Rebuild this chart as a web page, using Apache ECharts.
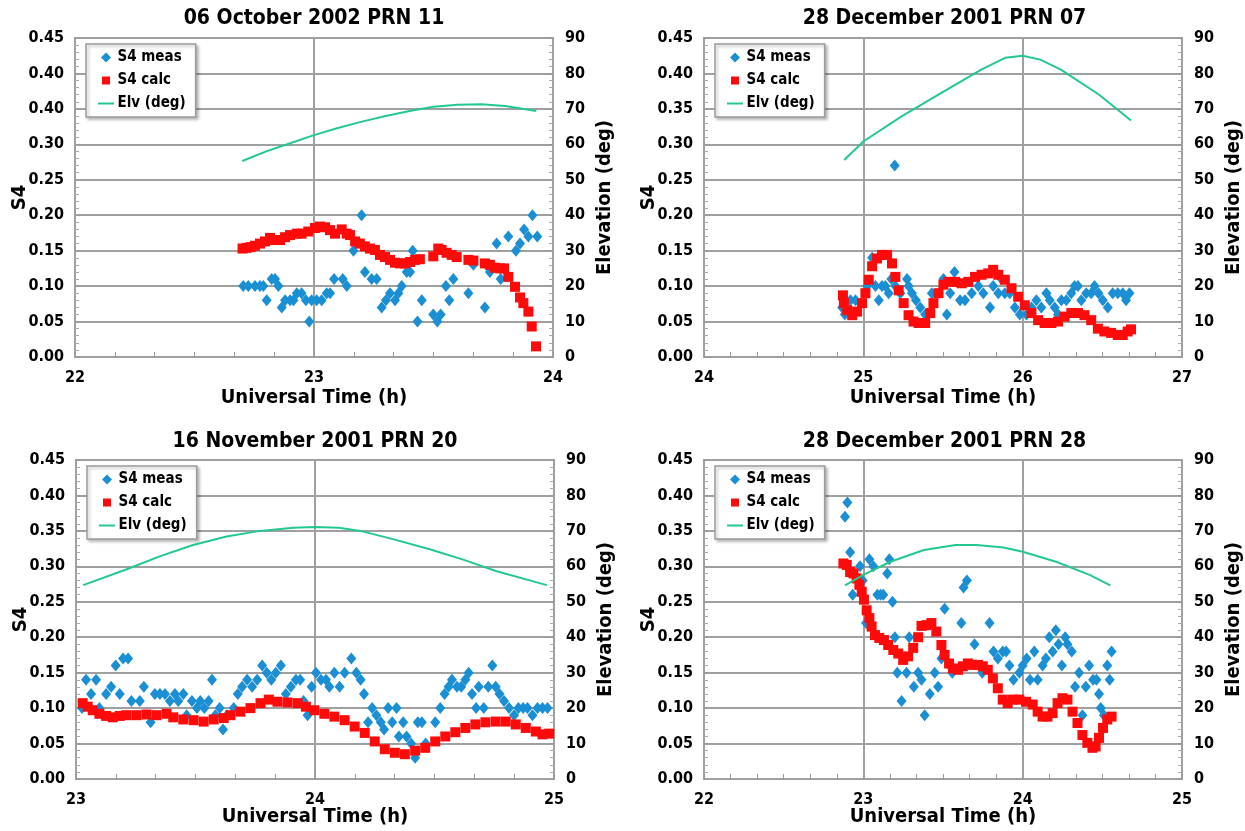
<!DOCTYPE html>
<html>
<head>
<meta charset="utf-8">
<script src="https://cdn.jsdelivr.net/npm/echarts@6.0.0/dist/echarts.min.js"></script>
<style>
  html, body { margin: 0; padding: 0; background: #fff; }
  #chart { width: 1245px; height: 831px; }
</style>
</head>
<body>
<div id="chart"></div>
<script>
// ---- Panel titles ----
const panelTitles = [
  '06 October 2002 PRN 11',
  '28 December 2001 PRN 07',
  '16 November 2001 PRN 20',
  '28 December 2001 PRN 28'
];

// ---- Time axis ranges (UT hours) ----
const timeRanges = [[22, 24], [24, 27], [23, 25], [22, 25]];

// ---- S4 tick labels (left axis), bottom to top ----
const s4LabelsOct = ['0.00', '0.05', '0.10', '0.15', '0.20', '0.25', '0.30', '0.40', '0.40', '0.45'];
const s4LabelsStd = ['0.00', '0.05', '0.10', '0.15', '0.20', '0.25', '0.30', '0.35', '0.40', '0.45'];

// ---- 06 October 2002 PRN 11 ----
const octMeas = [
  [22.704,0.10],[22.725,0.10],[22.753,0.10],[22.774,0.10],[22.788,0.10],[22.802,0.08],[22.823,0.11],[22.837,0.11],
  [22.851,0.10],[22.865,0.07],[22.879,0.08],[22.900,0.08],[22.914,0.08],[22.928,0.09],[22.948,0.09],[22.966,0.08],
  [22.980,0.05],[22.990,0.08],[23.011,0.08],[23.032,0.08],[23.053,0.09],[23.067,0.09],[23.084,0.11],[23.120,0.11],
  [23.137,0.10],[23.165,0.15],[23.199,0.20],[23.213,0.12],[23.241,0.11],[23.262,0.11],[23.283,0.07],[23.301,0.08],
  [23.318,0.09],[23.339,0.08],[23.353,0.09],[23.367,0.10],[23.388,0.12],[23.402,0.12],[23.413,0.15],[23.433,0.05],
  [23.451,0.08],[23.499,0.06],[23.516,0.05],[23.530,0.06],[23.552,0.10],[23.566,0.08],[23.583,0.11],[23.646,0.09],
  [23.667,0.13],[23.715,0.07],[23.736,0.12],[23.764,0.16],[23.781,0.11],[23.813,0.17],[23.845,0.15],[23.862,0.16],
  [23.879,0.18],[23.897,0.17],[23.914,0.20],[23.934,0.17]
];
const octCalc = [
  [22.701,0.153],[22.718,0.154],[22.735,0.155],[22.753,0.157],[22.774,0.160],[22.795,0.163],[22.816,0.168],[22.837,0.165],
  [22.858,0.165],[22.879,0.169],[22.900,0.172],[22.928,0.174],[22.948,0.174],[22.976,0.177],[23.004,0.182],[23.025,0.184],
  [23.046,0.183],[23.067,0.179],[23.088,0.174],[23.116,0.180],[23.137,0.174],[23.151,0.172],[23.172,0.163],[23.192,0.160],
  [23.213,0.156],[23.234,0.153],[23.255,0.151],[23.276,0.144],[23.297,0.141],[23.318,0.137],[23.339,0.133],[23.360,0.132],
  [23.381,0.132],[23.402,0.134],[23.423,0.137],[23.443,0.138],[23.499,0.142],[23.520,0.153],[23.534,0.151],[23.555,0.147],
  [23.576,0.144],[23.597,0.141],[23.646,0.137],[23.667,0.136],[23.715,0.132],[23.736,0.130],[23.757,0.126],[23.778,0.125],
  [23.795,0.125],[23.813,0.113],[23.841,0.099],[23.862,0.084],[23.876,0.076],[23.897,0.064],[23.911,0.043],[23.929,0.015]
];
const octElv = [
  [22.70,55.3],[22.80,58.0],[22.90,60.3],[23.00,62.6],[23.10,64.6],[23.20,66.4],[23.30,68.0],
  [23.40,69.4],[23.50,70.6],[23.60,71.2],[23.70,71.3],[23.80,70.8],[23.93,69.4]
];

// ---- 28 December 2001 PRN 07 ----
const dec07Meas = [
  [24.867,0.07],[24.884,0.06],[24.919,0.08],[24.951,0.08],[25.024,0.10],[25.055,0.14],[25.076,0.10],[25.097,0.08],
  [25.117,0.10],[25.138,0.10],[25.159,0.09],[25.176,0.11],[25.197,0.27],[25.201,0.10],[25.232,0.09],[25.274,0.11],
  [25.284,0.10],[25.305,0.09],[25.330,0.08],[25.357,0.07],[25.388,0.06],[25.430,0.09],[25.472,0.09],[25.503,0.11],
  [25.524,0.06],[25.545,0.09],[25.572,0.12],[25.607,0.08],[25.638,0.08],[25.680,0.09],[25.722,0.10],[25.753,0.09],
  [25.795,0.07],[25.815,0.10],[25.847,0.09],[25.867,0.11],[25.888,0.09],[25.919,0.09],[25.951,0.07],[25.982,0.06],
  [26.024,0.06],[26.055,0.07],[26.086,0.08],[26.117,0.07],[26.149,0.09],[26.170,0.08],[26.201,0.07],[26.222,0.06],
  [26.243,0.08],[26.274,0.08],[26.305,0.09],[26.326,0.10],[26.347,0.10],[26.368,0.08],[26.399,0.09],[26.430,0.09],
  [26.451,0.10],[26.476,0.09],[26.503,0.08],[26.534,0.07],[26.565,0.09],[26.597,0.09],[26.628,0.09],[26.649,0.08],
  [26.670,0.09]
];
const dec07Calc = [
  [24.872,0.087],[24.878,0.076],[24.899,0.066],[24.930,0.059],[24.961,0.064],[24.992,0.076],[25.013,0.090],[25.034,0.109],
  [25.055,0.128],[25.086,0.139],[25.117,0.144],[25.149,0.144],[25.180,0.132],[25.201,0.113],[25.222,0.094],[25.253,0.076],
  [25.284,0.059],[25.315,0.050],[25.347,0.048],[25.388,0.048],[25.420,0.062],[25.440,0.076],[25.472,0.090],[25.503,0.102],
  [25.534,0.106],[25.576,0.106],[25.617,0.104],[25.659,0.106],[25.701,0.113],[25.742,0.116],[25.784,0.118],[25.815,0.123],
  [25.847,0.116],[25.888,0.109],[25.930,0.097],[25.972,0.085],[26.013,0.073],[26.055,0.062],[26.097,0.052],[26.138,0.048],
  [26.180,0.048],[26.222,0.050],[26.263,0.057],[26.305,0.062],[26.347,0.062],[26.388,0.059],[26.430,0.052],[26.472,0.040],
  [26.513,0.036],[26.555,0.034],[26.597,0.031],[26.628,0.031],[26.659,0.036],[26.680,0.039]
];
const dec07Elv = [
  [24.88,55.6],[25.00,60.8],[25.24,67.9],[25.49,74.5],[25.74,81.1],[25.89,84.4],[26.00,85.0],
  [26.11,83.9],[26.24,81.1],[26.48,74.0],[26.68,66.7]
];

// ---- 16 November 2001 PRN 20 ----
const novMeas = [
  [23.025,0.10],[23.042,0.14],[23.063,0.12],[23.084,0.14],[23.098,0.10],[23.126,0.12],[23.147,0.13],[23.166,0.16],
  [23.183,0.12],[23.197,0.17],[23.218,0.17],[23.232,0.11],[23.267,0.11],[23.284,0.13],[23.312,0.08],[23.330,0.12],
  [23.351,0.12],[23.372,0.12],[23.393,0.11],[23.414,0.12],[23.428,0.11],[23.449,0.12],[23.463,0.09],[23.485,0.11],
  [23.506,0.10],[23.520,0.11],[23.537,0.10],[23.555,0.11],[23.569,0.14],[23.583,0.09],[23.601,0.10],[23.615,0.07],
  [23.632,0.09],[23.660,0.10],[23.677,0.12],[23.695,0.13],[23.716,0.14],[23.737,0.13],[23.758,0.14],[23.779,0.16],
  [23.798,0.15],[23.817,0.14],[23.836,0.15],[23.857,0.16],[23.878,0.12],[23.899,0.13],[23.920,0.14],[23.938,0.14],
  [23.952,0.11],[23.969,0.09],[23.986,0.13],[24.004,0.15],[24.025,0.14],[24.046,0.14],[24.060,0.13],[24.081,0.15],
  [24.103,0.13],[24.124,0.15],[24.152,0.17],[24.173,0.15],[24.191,0.14],[24.205,0.12],[24.222,0.08],[24.239,0.10],
  [24.257,0.09],[24.275,0.08],[24.289,0.07],[24.306,0.10],[24.323,0.08],[24.341,0.10],[24.351,0.06],[24.369,0.08],
  [24.383,0.06],[24.402,0.05],[24.419,0.03],[24.430,0.08],[24.447,0.08],[24.463,0.05],[24.503,0.08],[24.524,0.10],
  [24.542,0.12],[24.559,0.13],[24.573,0.14],[24.594,0.13],[24.612,0.13],[24.629,0.14],[24.643,0.15],[24.657,0.12],
  [24.674,0.10],[24.685,0.13],[24.706,0.10],[24.725,0.13],[24.742,0.16],[24.756,0.13],[24.772,0.12],[24.791,0.11],
  [24.812,0.10],[24.833,0.09],[24.851,0.10],[24.871,0.10],[24.889,0.10],[24.910,0.09],[24.931,0.10],[24.952,0.10],
  [24.973,0.10]
];
const novCalc = [
  [23.028,0.107],[23.049,0.102],[23.070,0.097],[23.098,0.092],[23.126,0.089],[23.154,0.087],[23.183,0.089],[23.211,0.090],
  [23.253,0.090],[23.295,0.091],[23.337,0.090],[23.379,0.092],[23.407,0.087],[23.449,0.084],[23.492,0.083],[23.534,0.081],
  [23.576,0.084],[23.618,0.086],[23.646,0.090],[23.688,0.095],[23.730,0.100],[23.772,0.107],[23.807,0.112],[23.843,0.109],
  [23.885,0.108],[23.927,0.107],[23.962,0.102],[23.997,0.097],[24.039,0.092],[24.081,0.088],[24.124,0.083],[24.166,0.074],
  [24.208,0.065],[24.250,0.053],[24.292,0.042],[24.334,0.037],[24.376,0.035],[24.419,0.040],[24.461,0.044],[24.503,0.053],
  [24.545,0.060],[24.587,0.066],[24.629,0.072],[24.671,0.077],[24.713,0.080],[24.756,0.081],[24.798,0.081],[24.840,0.077],
  [24.882,0.072],[24.924,0.067],[24.952,0.063],[24.980,0.064]
];
const novElv = [
  [23.03,54.7],[23.21,59.1],[23.35,62.8],[23.49,66.0],[23.63,68.4],[23.77,70.0],[23.91,70.9],[24.00,71.1],
  [24.10,70.9],[24.19,70.0],[24.33,67.6],[24.48,64.8],[24.62,61.9],[24.76,58.6],[24.97,54.7]
];

// ---- 28 December 2001 PRN 28 ----
const dec28Meas = [
  [22.885,0.37],[22.900,0.39],[22.917,0.32],[22.933,0.26],[22.979,0.30],[22.996,0.28],[23.017,0.22],[23.038,0.31],
  [23.063,0.30],[23.088,0.26],[23.108,0.26],[23.125,0.26],[23.150,0.29],[23.163,0.31],[23.183,0.25],[23.198,0.20],
  [23.213,0.15],[23.240,0.11],[23.271,0.15],[23.288,0.20],[23.317,0.13],[23.344,0.15],[23.365,0.14],[23.385,0.09],
  [23.417,0.12],[23.448,0.15],[23.469,0.13],[23.490,0.17],[23.510,0.24],[23.542,0.16],[23.558,0.15],[23.615,0.22],
  [23.629,0.27],[23.650,0.28],[23.698,0.19],[23.746,0.15],[23.792,0.22],[23.817,0.18],[23.844,0.17],[23.875,0.18],
  [23.896,0.18],[23.917,0.16],[23.942,0.14],[23.979,0.15],[24.000,0.16],[24.025,0.17],[24.046,0.14],[24.073,0.18],
  [24.094,0.14],[24.125,0.16],[24.146,0.17],[24.167,0.20],[24.188,0.18],[24.208,0.21],[24.225,0.19],[24.246,0.16],
  [24.267,0.20],[24.281,0.19],[24.308,0.18],[24.329,0.13],[24.354,0.15],[24.375,0.09],[24.396,0.13],[24.417,0.16],
  [24.442,0.14],[24.463,0.14],[24.479,0.12],[24.490,0.10],[24.510,0.09],[24.531,0.16],[24.546,0.14],[24.558,0.18]
];
const dec28Calc = [
  [22.875,0.304],[22.896,0.302],[22.917,0.292],[22.938,0.290],[22.958,0.283],[22.975,0.274],[22.990,0.264],[23.004,0.253],
  [23.021,0.238],[23.038,0.227],[23.052,0.215],[23.073,0.203],[23.100,0.199],[23.129,0.196],[23.156,0.189],[23.188,0.182],
  [23.219,0.177],[23.250,0.168],[23.281,0.173],[23.313,0.185],[23.344,0.200],[23.365,0.216],[23.396,0.217],[23.427,0.220],
  [23.458,0.208],[23.490,0.189],[23.510,0.175],[23.538,0.163],[23.563,0.156],[23.594,0.154],[23.625,0.159],[23.656,0.163],
  [23.688,0.161],[23.719,0.161],[23.750,0.159],[23.781,0.154],[23.813,0.142],[23.844,0.128],[23.875,0.112],[23.906,0.107],
  [23.938,0.112],[23.979,0.112],[24.021,0.109],[24.063,0.105],[24.094,0.095],[24.125,0.088],[24.156,0.088],[24.188,0.093],
  [24.219,0.107],[24.250,0.114],[24.281,0.112],[24.313,0.095],[24.344,0.079],[24.375,0.062],[24.406,0.051],[24.438,0.044],
  [24.458,0.046],[24.479,0.058],[24.504,0.072],[24.531,0.084],[24.558,0.088]
];
const dec28Elv = [
  [22.885,54.6],[23.00,57.6],[23.17,61.3],[23.38,64.6],[23.58,66.0],[23.71,66.0],[23.88,65.3],
  [24.00,64.1],[24.21,61.3],[24.42,57.6],[24.55,54.6]
];

// ---- Legend entries ----
const legendNames = ['S4 meas', 'S4 calc', 'Elv (deg)'];

// ---- Styling ----
const FONT = "'Liberation Sans Narrow', 'Arial Narrow', 'DejaVu Sans Condensed', sans-serif";
const MEAS_COLOR = '#1a8fd4';
const CALC_COLOR = '#ff0a0a';
const ELV_COLOR = '#22c98c';
const GRID_COLOR = '#a0a0a0';
const DIAMOND_ICON = 'path://M5 0L10 5L5 10L0 5Z';
const SQUARE_ICON = 'path://M0 0M10 10M1 1H9V9H1Z';
const LINE_ICON = 'path://M0 0M0 10M0 4H16V6H0Z';

const panelData = [
  { meas: octMeas, calc: octCalc, elv: octElv, s4Labels: s4LabelsOct },
  { meas: dec07Meas, calc: dec07Calc, elv: dec07Elv, s4Labels: s4LabelsStd },
  { meas: novMeas, calc: novCalc, elv: novElv, s4Labels: s4LabelsStd },
  { meas: dec28Meas, calc: dec28Calc, elv: dec28Elv, s4Labels: s4LabelsStd }
];

// Plot rectangles (left, top, width, height) for the 2x2 layout
const boxes = [
  { left: 75, top: 38, width: 478, height: 319 },
  { left: 704, top: 38, width: 481, height: 319 },
  { left: 76, top: 460, width: 478, height: 319 },
  { left: 704, top: 460, width: 481, height: 319 }
];

const boldText = (size) => ({ fontSize: size, fontWeight: 'bold', color: '#000', fontFamily: FONT });

const option = {
  animation: false,
  backgroundColor: '#fff',
  title: [], grid: [], xAxis: [], yAxis: [], legend: [], series: []
};

panelData.forEach((p, i) => {
  const b = boxes[i];
  const [xMin, xMax] = timeRanges[i];
  const bottomRow = i >= 2;

  option.title.push({
    text: panelTitles[i],
    left: b.left + b.width / 2,
    top: b.top - (bottomRow ? 29 : 30),
    padding: 0,
    textAlign: 'center',
    textVerticalAlign: 'top',
    textStyle: boldText(21)
  });

  option.grid.push({
    left: b.left, top: b.top, width: b.width, height: b.height,
    show: true, backgroundColor: '#fff', borderColor: GRID_COLOR, borderWidth: 2
  });

  option.xAxis.push({
    type: 'value', gridIndex: i, min: xMin, max: xMax, interval: 1,
    name: 'Universal Time (h)', nameLocation: 'middle', nameGap: bottomRow ? 28 : 31,
    nameMoveOverlap: false,
    nameTextStyle: boldText(20),
    axisLine: { show: false },
    axisTick: { show: true, inside: true, length: 5, lineStyle: { color: '#999' } },
    minorTick: { show: true, splitNumber: 6, length: 5, lineStyle: { color: '#999', width: 1 } },
    splitLine: { show: true, lineStyle: { color: GRID_COLOR, width: 2 } },
    minorSplitLine: { show: false },
    axisLabel: Object.assign({ margin: 13 }, boldText(16))
  });

  const labels = p.s4Labels;
  option.yAxis.push({
    type: 'value', gridIndex: i, position: 'left', min: 0, max: 0.45, interval: 0.05,
    name: 'S4', nameLocation: 'middle', nameGap: 45, nameRotate: 90,
    nameMoveOverlap: false,
    nameTextStyle: boldText(20),
    axisLine: { show: false },
    axisTick: { show: true, inside: true, length: 4, lineStyle: { color: '#999' } },
    minorTick: { show: true, splitNumber: 5, length: 4, lineStyle: { color: '#aaa', width: 1 } },
    splitLine: { show: true, lineStyle: { color: GRID_COLOR, width: 2 } },
    axisLabel: Object.assign({ margin: 11, formatter: (v) => labels[Math.round(v / 0.05)] }, boldText(16))
  });
  option.yAxis.push({
    type: 'value', gridIndex: i, position: 'right', min: 0, max: 90, interval: 10,
    name: 'Elevation (deg)', nameLocation: 'middle', nameGap: 42, nameRotate: 90,
    nameMoveOverlap: false,
    nameTextStyle: boldText(20),
    axisLine: { show: false },
    axisTick: { show: true, inside: true, length: 4, lineStyle: { color: '#999' } },
    minorTick: { show: true, splitNumber: 5, length: 4, lineStyle: { color: '#aaa', width: 1 } },
    splitLine: { show: false },
    axisLabel: Object.assign({ margin: 12 }, boldText(16))
  });

  option.legend.push({
    orient: 'vertical',
    left: b.left + 11, top: b.top + 6,
    selectedMode: false,
    backgroundColor: '#fff',
    borderColor: '#9a9a9a', borderWidth: 1.5, borderRadius: 0,
    shadowColor: 'rgba(0,0,0,0.25)', shadowBlur: 3, shadowOffsetX: 2, shadowOffsetY: 2,
    padding: [5, 10, 5, 12],
    itemWidth: 17, itemHeight: 10, itemGap: 6,
    textStyle: Object.assign({ lineHeight: 17, padding: [0, 0, 0, -2] }, boldText(15)),
    data: [
      { name: legendNames[0], icon: DIAMOND_ICON },
      { name: legendNames[1], icon: SQUARE_ICON },
      { name: legendNames[2], icon: LINE_ICON }
    ]
  });

  option.series.push({
    type: 'scatter', name: legendNames[0], xAxisIndex: i, yAxisIndex: 2 * i,
    data: p.meas, symbol: 'diamond', symbolSize: [10, 12],
    itemStyle: { color: MEAS_COLOR, opacity: 1 }, z: 2
  });
  option.series.push({
    type: 'scatter', name: legendNames[1], xAxisIndex: i, yAxisIndex: 2 * i,
    data: p.calc, symbol: 'rect', symbolSize: 10,
    itemStyle: { color: CALC_COLOR, opacity: 1 }, z: 3
  });
  option.series.push({
    type: 'line', name: legendNames[2], xAxisIndex: i, yAxisIndex: 2 * i + 1,
    data: p.elv, symbol: 'none', showSymbol: false, smooth: false,
    lineStyle: { color: ELV_COLOR, width: 2 }, itemStyle: { color: ELV_COLOR }, z: 4
  });
});

const chart = echarts.init(document.getElementById('chart'), null, { renderer: 'canvas' });
chart.setOption(option);
</script>
</body>
</html>
